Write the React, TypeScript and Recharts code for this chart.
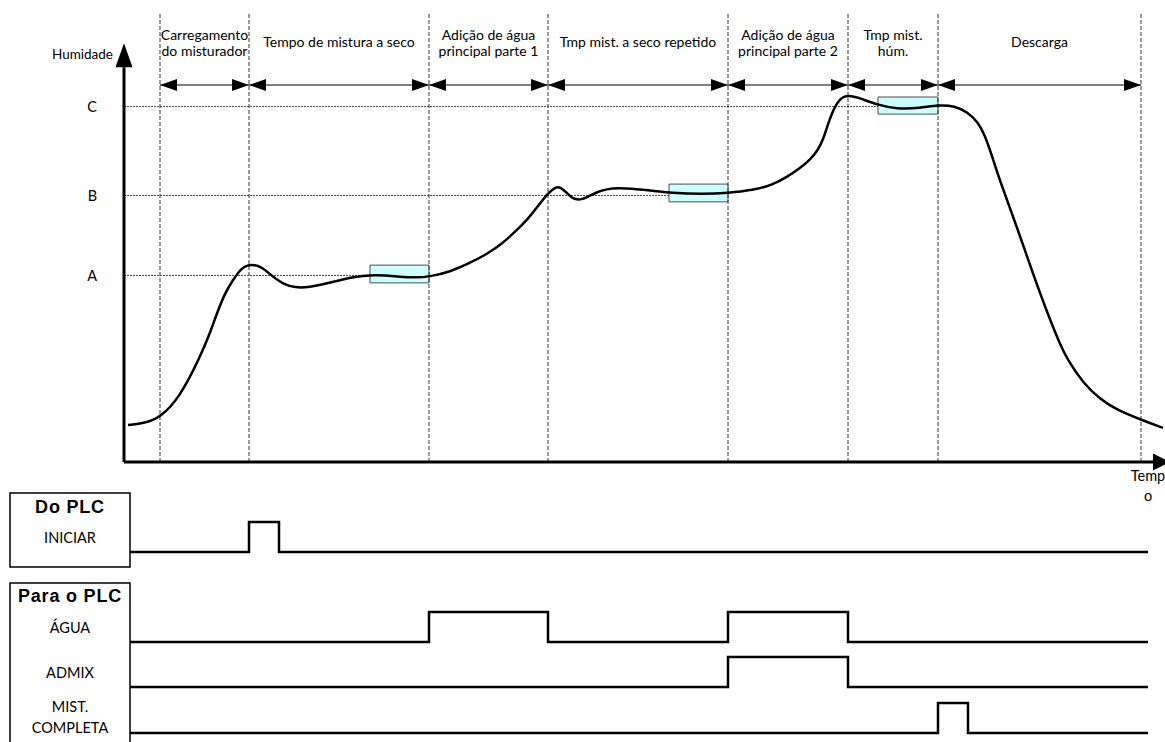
import React from 'react';
import {
  ComposedChart,
  LineChart,
  Line,
  XAxis,
  YAxis,
  ReferenceLine,
  ReferenceArea,
  ReferenceDot,
} from 'recharts';

const FONT = 'Lato, "Open Sans", sans-serif';
const BOLD_FONT = '"Liberation Sans", Arial, sans-serif';

// ---- humidity curve (time units, humidity units) ----
const CURVE_TIME = [
  0.4, 2.1, 3.6, 5.6, 7.6, 8.6, 9.3, 10.1, 10.9, 11.8,
  12.8, 13.8, 14.8, 15.9, 17.1, 18.6, 20.1, 21.6, 23.1, 24.6,
  26.1, 27.6, 29.1, 30.5, 32.6, 34.6, 36.3, 37.9, 39.3, 40.3,
  41.4, 42.4, 43.2, 43.6, 44.3, 44.9, 45.6, 46.4, 47.3, 48.3,
  49.3, 51.3, 53.1, 54.6, 57.9, 60.4, 62.9, 64.8, 66.3, 67.6,
  68.6, 69.4, 69.9, 70.4, 70.9, 71.6, 72.4, 73.6, 75.3, 77.3,
  79.6, 81.4, 83.1, 84.3, 85.4, 86.1, 86.7, 87.6, 89.3, 90.9,
  92.6, 93.6, 94.3, 95.9, 97.6, 99.3, 101.8, 103.9,
];
const CURVE_HUMIDITY = [
  10.4, 11.0, 12.4, 18.3, 29.5, 36.3, 41.9, 47.6, 51.2, 54.9,
  55.7, 54.9, 52.3, 50.1, 49.0, 49.2, 50.1, 51.2, 52.1, 52.6,
  52.5, 52.1, 51.9, 52.1, 53.5, 56.0, 58.5, 61.6, 65.3, 68.1,
  72.0, 75.7, 77.4, 77.4, 75.7, 74.0, 73.7, 74.6, 76.0, 76.8,
  77.1, 76.8, 76.3, 75.7, 75.4, 75.7, 76.5, 77.9, 80.2, 82.7,
  85.0, 87.8, 90.6, 95.1, 99.0, 102.4, 103.3, 102.4, 100.5, 99.3,
  99.6, 100.5, 100.2, 98.5, 95.7, 91.8, 87.0, 79.0, 66.1, 52.9,
  40.0, 33.2, 29.0, 22.2, 17.7, 14.6, 11.8, 9.6,
];

// ---- phases ----
const PHASE_BOUNDS = [3.6, 12.5, 30.5, 42.4, 60.4, 72.4, 81.4, 101.7];
const PHASE_LABELS = [
  ['Carregamento', 'do misturador'],
  ['Tempo de mistura a seco'],
  ['Adição de água', 'principal parte 1'],
  ['Tmp mist. a seco repetido'],
  ['Adição de água', 'principal parte 2'],
  ['Tmp mist.', 'húm.'],
  ['Descarga'],
];
const PHASE_ARROW_LEVEL = 106.1;
const BOUND_TOP = 126.6;

// ---- humidity levels ----
const LEVEL_VALUES = [52.5, 75, 100];
const LEVEL_LABELS = ['A', 'B', 'C'];
const LEVEL_LINE_END = [24.6, 54.5, 75.4];

// ---- stable windows ----
const STABLE_START = [24.6, 54.5, 75.4];
const STABLE_END = [30.5, 60.4, 81.4];
const STABLE_LOW = [50.4, 73.2, 97.9];
const STABLE_HIGH = [55.4, 78.2, 102.7];

const X_DOMAIN = [0, 104];
const Y_DOMAIN = [0, 130];
const X_AXIS_END = 102.9;
const Y_AXIS_END = 111.1;

// ---- PLC signals ----
const INICIAR_TIME = [0.6, 12.5, 15.5, 102.4];
const INICIAR_LEVEL = [0, 1, 0, 0];
const AGUA_TIME = [0.6, 30.5, 42.4, 60.4, 72.4, 102.4];
const AGUA_LEVEL = [0, 1, 0, 1, 0, 0];
const ADMIX_TIME = [0.6, 60.4, 72.4, 102.4];
const ADMIX_LEVEL = [0, 1, 0, 0];
const MIST_TIME = [0.6, 81.4, 84.4, 102.4];
const MIST_LEVEL = [0, 1, 0, 0];

const mainData = CURVE_TIME.map((t, i) => ({ t, h: CURVE_HUMIDITY[i] }));

const makePhaseArrow = (lines: string[]) => (p: any) => {
  const { x1, y1, x2 } = p;
  const head = 17;
  const half = 6;
  const cx = (x1 + x2) / 2;
  const offsets = lines.length === 2 ? [-45, -29] : [-38];
  return (
    <g>
      <line x1={x1} y1={y1} x2={x2} y2={y1} stroke="#7f7f7f" strokeWidth={2} />
      <polygon points={`${x1},${y1} ${x1 + head},${y1 - half} ${x1 + head},${y1 + half}`} fill="#000" />
      <polygon points={`${x2},${y1} ${x2 - head},${y1 - half} ${x2 - head},${y1 + half}`} fill="#000" />
      {lines.map((s, i) => (
        <text key={i} x={cx} y={y1 + offsets[i]} textAnchor="middle" fontSize={14} fontFamily={FONT} fill="#000">
          {s}
        </text>
      ))}
    </g>
  );
};

const YArrow = (p: any) => {
  const { cx, cy } = p;
  return (
    <g>
      <polygon points={`${cx},${cy - 24} ${cx - 8.5},${cy} ${cx + 8.5},${cy}`} fill="#000" />
      <text x={cx - 11} y={cy - 8} textAnchor="end" fontSize={13.5} fontFamily={FONT} fill="#000">
        Humidade
      </text>
    </g>
  );
};

const XArrow = (p: any) => {
  const { cx, cy } = p;
  return (
    <g>
      <polygon points={`${cx},${cy - 8.5} ${cx + 17},${cy} ${cx},${cy + 8.5}`} fill="#000" />
      <text x={cx - 5} y={cy + 19} textAnchor="middle" fontSize={14.5} fontFamily={FONT} fill="#000">
        Temp
      </text>
      <text x={cx - 5} y={cy + 39} textAnchor="middle" fontSize={14.5} fontFamily={FONT} fill="#000">
        o
      </text>
    </g>
  );
};

const SignalChart = ({ top, times, levels }: { top: number; times: number[]; levels: number[] }) => {
  const data = times.map((t, i) => ({ t, v: levels[i] }));
  return (
    <div style={{ position: 'absolute', left: 0, top }}>
      <LineChart width={1165} height={40} data={data} margin={{ top: 5, right: 1, bottom: 5, left: 124 }}>
        <XAxis type="number" dataKey="t" domain={X_DOMAIN} hide />
        <YAxis type="number" domain={[0, 1]} hide />
        <Line
          type="stepAfter"
          dataKey="v"
          stroke="#000"
          strokeWidth={2.5}
          dot={false}
          isAnimationActive={false}
        />
      </LineChart>
    </div>
  );
};

export default function App() {
  return (
    <div
      style={{
        position: 'absolute',
        left: 0,
        top: 0,
        width: 1165,
        height: 742,
        overflow: 'hidden',
        background: '#fff',
        fontFamily: FONT,
      }}
    >
      <div style={{ position: 'absolute', left: 0, top: 0 }}>
        <ComposedChart width={1165} height={510} data={mainData} margin={{ top: 0, right: 1, bottom: 48, left: 64 }}>
          <XAxis type="number" dataKey="t" domain={X_DOMAIN} hide allowDataOverflow />
          <YAxis
            type="number"
            domain={Y_DOMAIN}
            ticks={LEVEL_VALUES}
            interval={0}
            tickFormatter={(v: number) => LEVEL_LABELS[LEVEL_VALUES.indexOf(v)]}
            axisLine={false}
            tickLine={false}
            width={60}
            tickMargin={21}
            tick={{ fill: '#000', fontSize: 14.5, fontFamily: FONT }}
            allowDataOverflow
          />
          {STABLE_START.map((s, i) => (
            <ReferenceArea
              key={`box${i}`}
              x1={s}
              x2={STABLE_END[i]}
              y1={STABLE_LOW[i]}
              y2={STABLE_HIGH[i]}
              fill="#ccffff"
              fillOpacity={1}
              stroke="#4d4d4d"
              strokeWidth={1}
            />
          ))}
          {LEVEL_VALUES.map((v, i) => (
            <ReferenceLine
              key={`lvl${i}`}
              segment={[{ x: 0, y: v }, { x: LEVEL_LINE_END[i], y: v }]}
              stroke="#444"
              strokeWidth={1}
              strokeDasharray="2 1"
            />
          ))}
          {PHASE_BOUNDS.map((b, i) => (
            <ReferenceLine
              key={`bd${i}`}
              segment={[{ x: b, y: 0 }, { x: b, y: BOUND_TOP }]}
              stroke="#333"
              strokeWidth={1}
              strokeDasharray="4 2"
            />
          ))}
          {PHASE_LABELS.map((lines, i) => (
            <ReferenceLine
              key={`ph${i}`}
              segment={[
                { x: PHASE_BOUNDS[i], y: PHASE_ARROW_LEVEL },
                { x: PHASE_BOUNDS[i + 1], y: PHASE_ARROW_LEVEL },
              ]}
              shape={makePhaseArrow(lines)}
            />
          ))}
          <ReferenceLine segment={[{ x: 0, y: 0 }, { x: X_AXIS_END, y: 0 }]} stroke="#000" strokeWidth={3} />
          <ReferenceLine segment={[{ x: 0, y: 0 }, { x: 0, y: Y_AXIS_END }]} stroke="#000" strokeWidth={3} />
          <ReferenceDot x={0} y={Y_AXIS_END} shape={YArrow} />
          <ReferenceDot x={X_AXIS_END} y={0} shape={XArrow} />
          <Line
            type="basis"
            dataKey="h"
            stroke="#000"
            strokeWidth={2.5}
            dot={false}
            isAnimationActive={false}
          />
        </ComposedChart>
      </div>

      <svg
        width={140}
        height={262}
        style={{ position: 'absolute', left: 0, top: 480 }}
      >
        <rect x={10} y={13} width={120} height={74} fill="none" stroke="#000" strokeWidth={1.5} />
        <rect x={10} y={103} width={120} height={170} fill="none" stroke="#000" strokeWidth={1.5} />
        <text x={70} y={33} textAnchor="middle" fontSize={18} fontWeight="bold" fontFamily={BOLD_FONT} letterSpacing={0.8}>
          Do PLC
        </text>
        <text x={70} y={63} textAnchor="middle" fontSize={14.5} fontFamily={FONT}>
          INICIAR
        </text>
        <text x={70} y={122} textAnchor="middle" fontSize={18} fontWeight="bold" fontFamily={BOLD_FONT} letterSpacing={0.8}>
          Para o PLC
        </text>
        <text x={70} y={153} textAnchor="middle" fontSize={14.5} fontFamily={FONT}>
          ÁGUA
        </text>
        <text x={70} y={198} textAnchor="middle" fontSize={14.5} fontFamily={FONT}>
          ADMIX
        </text>
        <text x={70} y={232} textAnchor="middle" fontSize={14.5} fontFamily={FONT}>
          MIST.
        </text>
        <text x={70} y={253} textAnchor="middle" fontSize={14.5} fontFamily={FONT}>
          COMPLETA
        </text>
      </svg>

      <SignalChart top={517} times={INICIAR_TIME} levels={INICIAR_LEVEL} />
      <SignalChart top={607} times={AGUA_TIME} levels={AGUA_LEVEL} />
      <SignalChart top={652} times={ADMIX_TIME} levels={ADMIX_LEVEL} />
      <SignalChart top={698} times={MIST_TIME} levels={MIST_LEVEL} />
    </div>
  );
}
